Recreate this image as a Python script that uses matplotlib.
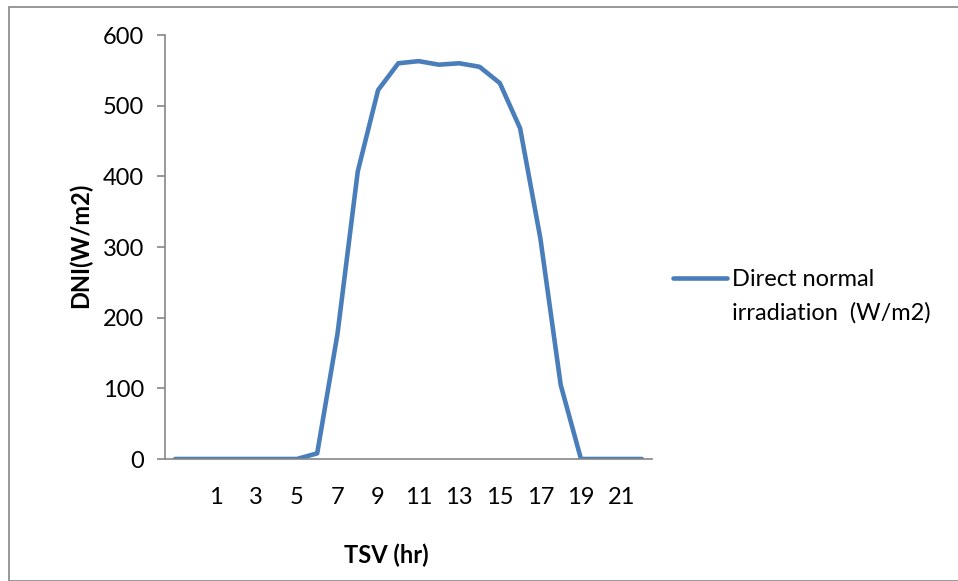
import matplotlib.pyplot as plt
from matplotlib.patches import Rectangle

# hours (solar time) and direct normal irradiation
hours = list(range(-1, 23))
dni = [0, 0, 0, 0, 0, 0, 0, 8, 177, 407, 522, 560, 563, 558, 560, 555,
       532, 468, 312, 105, 0, 0, 0, 0]
tick_hours = list(range(1, 22, 2))

plt.rcParams['font.family'] = ['Lato', 'DejaVu Sans']

fig = plt.figure(figsize=(9.58, 5.81), dpi=100)
ax = fig.add_axes([165/958, 1 - 459/581, (652-165)/958, (459-35)/581])

ax.plot(hours, dni, color='#4A7EBB', lw=3.3, solid_capstyle='round',
        label='Direct normal')

ax.set_xlim(-1.5, 22.5)
ax.set_ylim(0, 600)
ax.set_yticks(range(0, 601, 100))
ax.set_xticks(tick_hours)
ax.tick_params(axis='x', length=0, pad=20, labelsize=17)
ax.tick_params(axis='y', length=6, width=1.2, color='#868686', pad=9,
               labelsize=17, direction='out')
for s in ['top', 'right']:
    ax.spines[s].set_visible(False)
for s in ['left', 'bottom']:
    ax.spines[s].set_color('#868686')
    ax.spines[s].set_linewidth(1.2)

fig.text(80/958, 1 - 245/581, 'DNI(W/m2)', rotation=90, ha='center',
         va='center', fontsize=17, fontweight='bold')
fig.text(386/958, 1 - 555/581, 'TSV (hr)', ha='center', va='center',
         fontsize=17, fontweight='bold')

leg = ax.legend(loc='center left', bbox_to_anchor=(673/958, 1 - 280/581),
                bbox_transform=fig.transFigure, frameon=False, borderpad=0,
                borderaxespad=0, fontsize=17, handlelength=2.3,
                handletextpad=0.2)
fig.text(732/958, 1 - 313/581, 'irradiation  (W/m2)', ha='left',
         va='center', fontsize=17)

fig.patches.append(Rectangle((9/958, 0), 1, 1 - 7/581, transform=fig.transFigure,
                             fill=False, edgecolor='#868686', lw=1.2))

fig.savefig('out.png', dpi=100)
